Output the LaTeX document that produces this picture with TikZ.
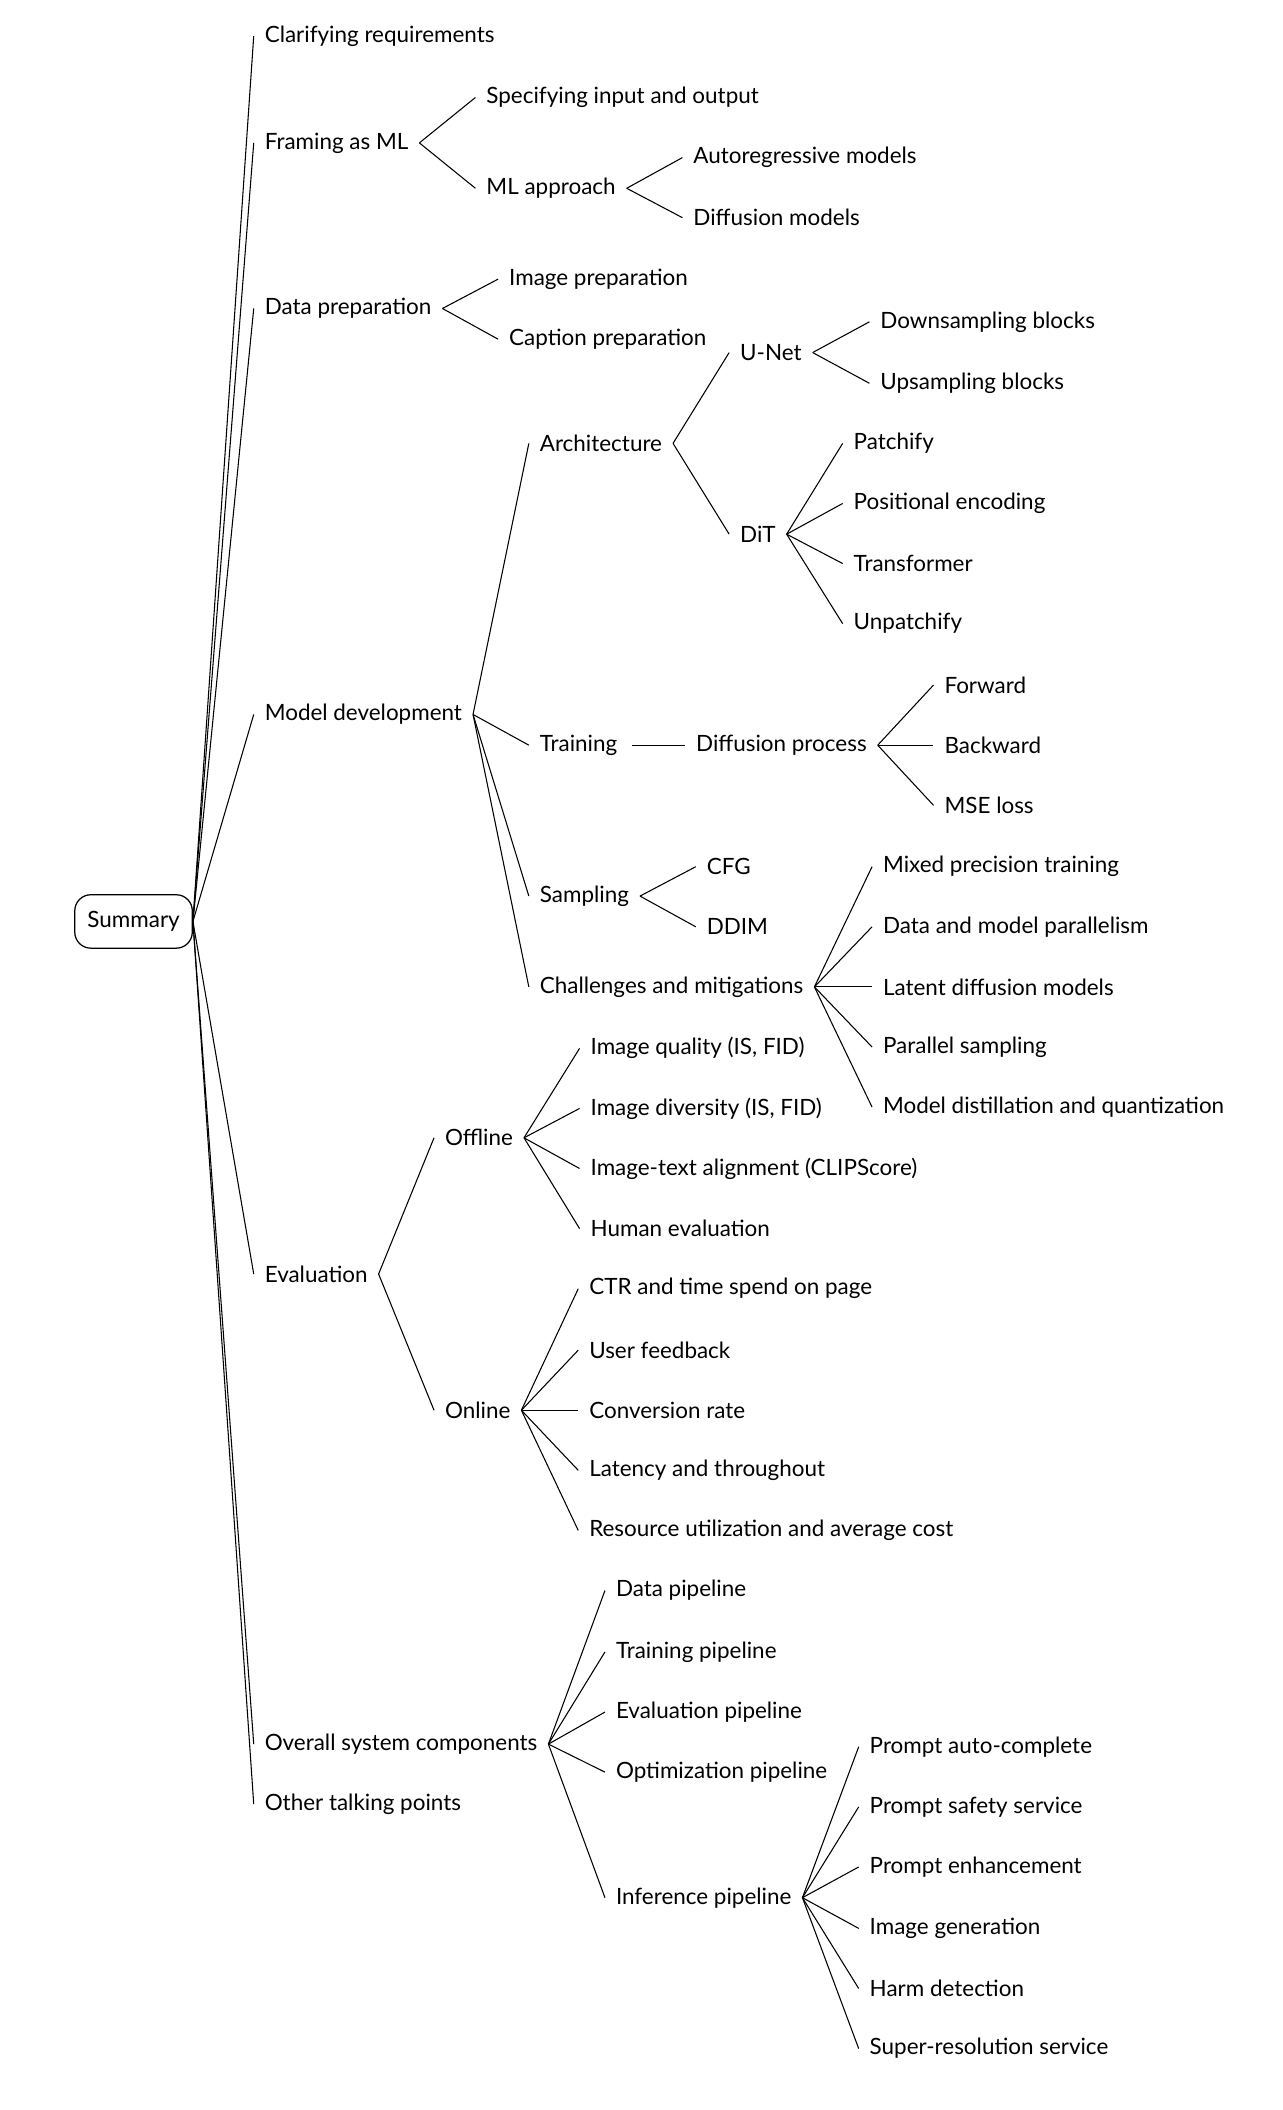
\documentclass[tikz,border=0pt]{standalone}
\usepackage{fontspec}
\setmainfont{Lato}
\usetikzlibrary{calc}
\begin{document}
\begin{tikzpicture}[x=0.75pt,y=-0.75pt,
 t/.style={anchor=west,inner xsep=6pt,xshift=-6pt,inner ysep=2pt,font=\fontsize{12.6pt}{14pt}\selectfont}]
\useasboundingbox (0,0) rectangle (960,1580);
\node[draw,rounded corners=9pt,minimum width=66pt,minimum height=30pt,line width=0.7pt,font=\fontsize{12.6pt}{14pt}\selectfont] (s) at (100,690) {Summary};
\newcommand\nd[4]{\node[t] (#1) at (#2,#3) {#4};}
\newcommand\ed[2]{\draw[line width=0.6pt] let \p1=(#1.east),\p2=(#2.west) in (\p1) .. controls ($(\p1)!0.5!(\p2)$ |- \p1) and ($(\p1)!0.5!(\p2)$ |- \p2) .. (\p2);}
\nd{cr}{198}{27}{Clarifying requirements}
\nd{fm}{198}{107}{Framing as ML}
\nd{dp}{198}{231}{Data preparation}
\nd{md}{198}{535}{Model development}
\nd{ev}{198}{954}{Evaluation}
\nd{os}{198}{1306}{Overall system components}
\nd{ot}{198}{1351}{Other talking points}
\foreach \c in {cr,fm,dp,md,ev,os,ot} {\ed{s}{\c}}
\nd{sio}{364}{73}{Specifying input and output}
\nd{mla}{364}{141}{ML approach}
\ed{fm}{sio}\ed{fm}{mla}
\nd{ar}{519}{118}{Autoregressive models}
\nd{dm}{519}{163}{Diffusion models}
\ed{mla}{ar}\ed{mla}{dm}
\nd{ip}{381}{209}{Image preparation}
\nd{cp}{381}{254}{Caption preparation}
\ed{dp}{ip}\ed{dp}{cp}
\nd{arch}{404}{332}{Architecture}
\nd{tr}{404}{558}{Training}
\nd{sa}{404}{671}{Sampling}
\nd{ch}{404}{739}{Challenges and mitigations}
\ed{md}{arch}\ed{md}{tr}\ed{md}{sa}\ed{md}{ch}
\nd{un}{554}{264}{U-Net}
\nd{dit}{554}{400}{DiT}
\ed{arch}{un}\ed{arch}{dit}
\nd{db}{659}{241}{Downsampling blocks}
\nd{ub}{659}{287}{Upsampling blocks}
\ed{un}{db}\ed{un}{ub}
\nd{pa}{639}{332}{Patchify}
\nd{pe}{639}{377}{Positional encoding}
\nd{tf}{639}{422}{Transformer}
\nd{up}{639}{467}{Unpatchify}
\ed{dit}{pa}\ed{dit}{pe}\ed{dit}{tf}\ed{dit}{up}
\nd{dfp}{521}{558}{Diffusion process}
\draw[line width=0.6pt] ([xshift=2pt]tr.east) -- (dfp.west);
\nd{fw}{707}{513}{Forward}
\nd{bw}{707}{558}{Backward}
\nd{mse}{707}{603}{MSE loss}
\ed{dfp}{fw}\ed{dfp}{bw}\ed{dfp}{mse}
\nd{cfg}{529}{649}{CFG}
\nd{ddim}{529}{694}{DDIM}
\ed{sa}{cfg}\ed{sa}{ddim}
\nd{c1}{661}{649}{Mixed precision training}
\nd{c2}{661}{694}{Data and model parallelism}
\nd{c3}{661}{739}{Latent diffusion models}
\nd{c4}{661}{784}{Parallel sampling}
\nd{c5}{661}{829}{Model distillation and quantization}
\foreach \c in {c1,c2,c3,c4,c5} {\ed{ch}{\c}}
\nd{off}{333}{852}{Offline}
\nd{on}{333}{1056}{Online}
\ed{ev}{off}\ed{ev}{on}
\nd{o1}{442}{785}{Image quality (IS, FID)}
\nd{o2}{442}{830}{Image diversity (IS, FID)}
\nd{o3}{442}{875}{Image-text alignment (CLIPScore)}
\nd{o4}{442}{920}{Human evaluation}
\foreach \c in {o1,o2,o3,o4} {\ed{off}{\c}}
\nd{n1}{441}{965}{CTR and time spend on page}
\nd{n2}{441}{1011}{User feedback}
\nd{n3}{441}{1056}{Conversion rate}
\nd{n4}{441}{1101}{Latency and throughout}
\nd{n5}{441}{1146}{Resource utilization and average cost}
\foreach \c in {n1,n2,n3,n4,n5} {\ed{on}{\c}}
\nd{p1}{461}{1191}{Data pipeline}
\nd{p2}{461}{1237}{Training pipeline}
\nd{p3}{461}{1282}{Evaluation pipeline}
\nd{p4}{461}{1327}{Optimization pipeline}
\nd{p5}{461}{1421}{Inference pipeline}
\foreach \c in {p1,p2,p3,p4,p5} {\ed{os}{\c}}
\nd{i1}{651}{1308}{Prompt auto-complete}
\nd{i2}{651}{1353}{Prompt safety service}
\nd{i3}{651}{1398}{Prompt enhancement}
\nd{i4}{651}{1444}{Image generation}
\nd{i5}{651}{1489}{Harm detection}
\nd{i6}{651}{1534}{Super-resolution service}
\foreach \c in {i1,i2,i3,i4,i5,i6} {\ed{p5}{\c}}
\end{tikzpicture}
\end{document}
